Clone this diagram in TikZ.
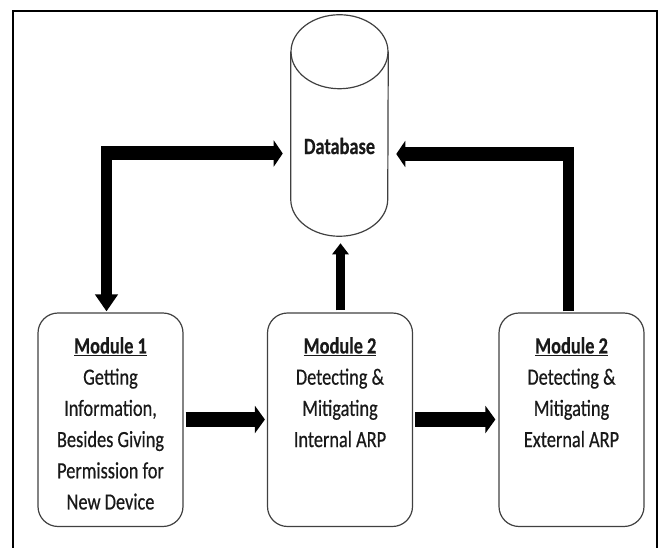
\documentclass[tikz,border=0pt]{standalone}
\usepackage{fontspec}
\setmainfont{Carlito}[FakeStretch=0.79,UprightFeatures={FakeBold=0.5},BoldFeatures={FakeBold=0.4}]
\usetikzlibrary{arrows.meta,calc}
\begin{document}
\begin{tikzpicture}[x=0.75pt,y=-0.75pt,
  frame/.style={draw=black,line width=1.6pt},
  modbox/.style={draw=black!75,line width=0.9pt,rounded corners=15pt,minimum width=108.75pt,minimum height=160.1pt,inner sep=0pt},
  modtext/.style={align=center,inner sep=0pt,font=\fontsize{17.4}{23.4}\selectfont,text=black!90},
  dbtext/.style={inner sep=0pt,font=\fontsize{17.4}{23.4}\selectfont\bfseries,text=black!90},
  cyl/.style={draw=black!75,line width=0.9pt},
  hbar/.style={line width=11.25pt,-{Triangle[length=7.5pt,width=20.25pt]}},
  ehbar/.style={line width=10.5pt,-{Triangle[length=6.75pt,width=19.5pt]}},
  evbar/.style={line width=8.25pt},
  evarrow/.style={line width=8.25pt,-{Triangle[length=12.75pt,width=16.5pt]}},
  midbar/.style={line width=6.75pt,-{Triangle[length=8.25pt,width=12pt]}}
]
\useasboundingbox (0,0) rectangle (659,548);
\draw[frame] (13,548) -- (13,11) -- (657,11) -- (657,548);

% database cylinder
\node[minimum width=72.75pt,minimum height=165.75pt,inner sep=0pt] (db) at (339.5,125.5) {};
\draw[cyl] ($(db.north)+(0,37)$) ellipse [x radius=36.375pt,y radius=27.75pt];
\draw[cyl] ($(db.north west)+(0,37)$) -- ($(db.south west)+(0,-37)$)
  arc[start angle=180,end angle=360,x radius=36.375pt,y radius=27.75pt]
  -- ($(db.north east)+(0,37)$);
\node[dbtext] (dbl) at (339.5,146) {Database};

% module boxes
\node[modbox] (m1) at (110.5,419.75) {};
\node[modbox] (m2) at (340,419.75) {};
\node[modbox] (m3) at (571.5,419.75) {};

\node[modtext,anchor=north] (t1) at ($(m1.north)+(0,24.5)$) {\textbf{\underline{Module 1}}\\Getting\\Information,\\Besides Giving\\Permission for\\New Device};
\node[modtext,anchor=north] (t2) at ($(m2.north)+(0,24.5)$) {\textbf{\underline{Module 2}}\\Detecting \&\\Mitigating\\Internal ARP};
\node[modtext,anchor=north] (t3) at ($(m3.north)+(0,24.5)$) {\textbf{\underline{Module 2}}\\Detecting \&\\Mitigating\\External ARP};

% left elbow arrow (double headed)
\coordinate (c1) at (106.5,153.5);
\draw[ehbar,shorten >=6pt] ($(c1)+(-5.5,0)$) -- (c1 -| db.west);
\draw[evarrow,shorten >=0.75pt] ($(c1)+(0,-7)$) -- (c1 |- m1.north);

% right elbow arrow
\coordinate (c2) at (568.5,154);
\draw[evbar,shorten <=0.75pt] (c2 |- m3.north) -- ($(c2)+(0,-7)$);
\draw[ehbar,shorten >=6pt] ($(c2)+(5.5,0)$) -- (c2 -| db.east);

% middle arrow
\draw[midbar,shorten <=1.5pt,shorten >=5.25pt] (340.5,0 |- m2.north) -- (340.5,0 |- db.south);

% horizontal arrows
\draw[hbar,shorten <=1.5pt,shorten >=1.5pt] (m1.east |- 0,419.5) -- (m2.west |- 0,419.5);
\draw[hbar,shorten <=1.5pt,shorten >=2.25pt] (m2.east |- 0,419.5) -- (m3.west |- 0,419.5);
\end{tikzpicture}
\end{document}
